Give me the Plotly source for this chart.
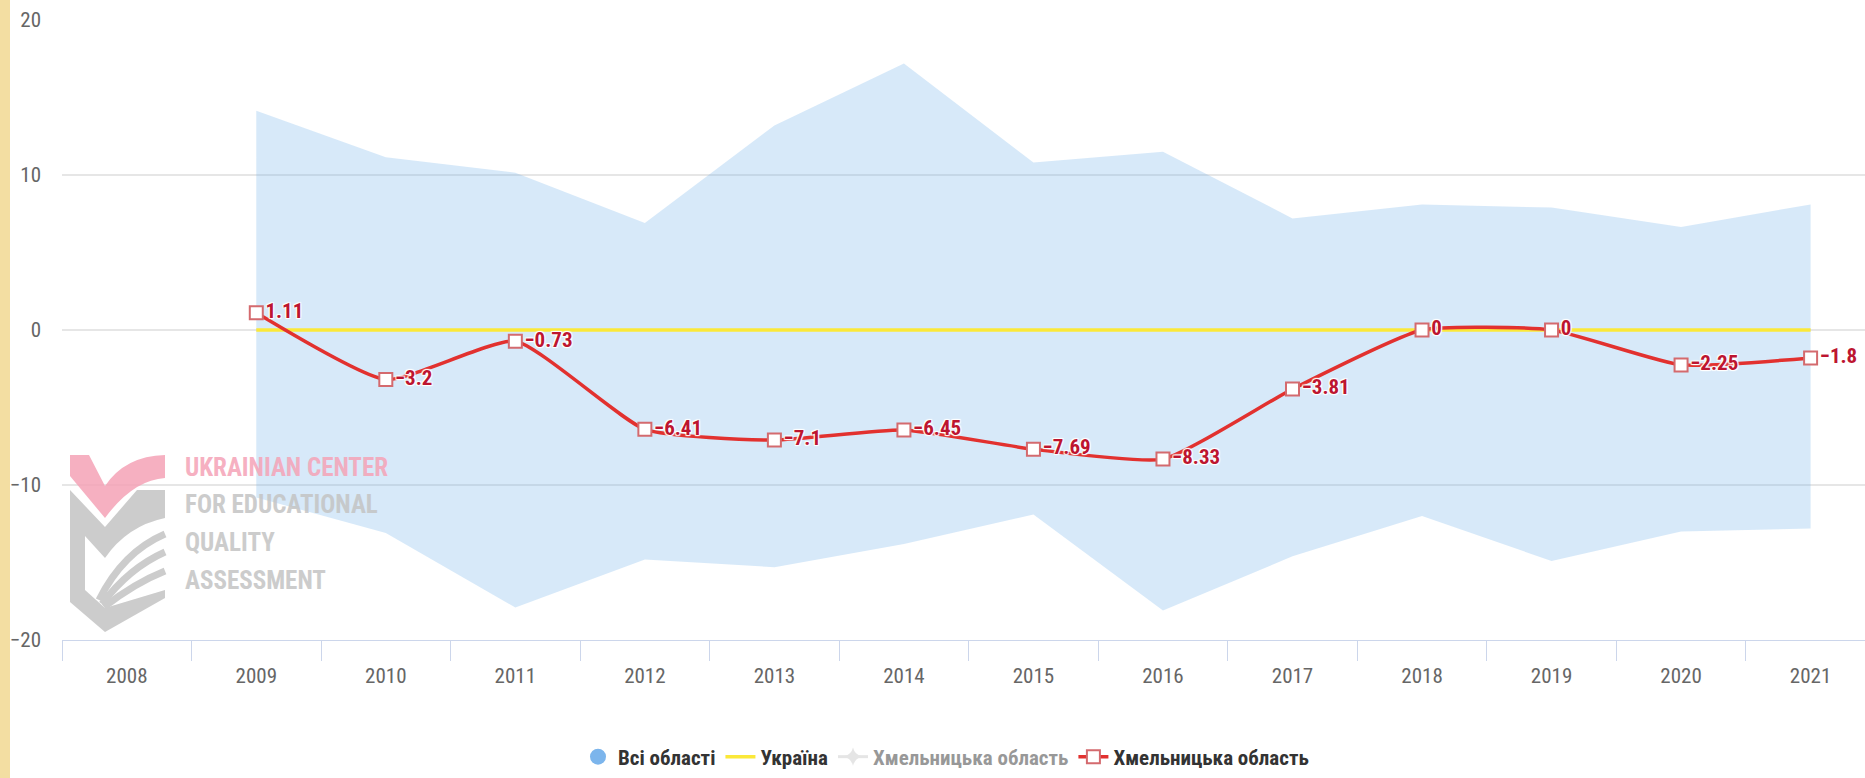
import base64
import plotly.graph_objects as go

#years on the axis and the values of each series
years = ['2008', '2009', '2010', '2011', '2012', '2013', '2014', '2015', '2016', '2017', '2018', '2019', '2020', '2021']
series_years = years[1:]

all_upper = [14.15, 11.15, 10.15, 6.9, 13.2, 17.2, 10.8, 11.5, 7.2, 8.1, 7.9, 6.65, 8.1]
all_lower = [-10.8, -13.1, -17.9, -14.8, -15.3, -13.8, -11.9, -18.1, -14.6, -12.0, -14.9, -13.0, -12.8]
ukraine = [0, 0, 0, 0, 0, 0, 0, 0, 0, 0, 0, 0, 0]
khmelnytskyi = [1.11, -3.2, -0.73, -6.41, -7.1, -6.45, -7.69, -8.33, -3.81, 0, 0, -2.25, -1.8]

font_family = 'Roboto Condensed, DejaVu Sans Condensed, sans-serif'

labels = [f'{v:g}'.replace('-', '\u2212') for v in khmelnytskyi]

fig = go.Figure()

#area range of all regions
fig.add_trace(go.Scatter(
    x = series_years, y = all_upper,
    mode = 'lines', line = dict(width = 0),
    legendgroup = 'all', showlegend = False, hoverinfo = 'skip'
))
fig.add_trace(go.Scatter(
    x = series_years, y = all_lower,
    mode = 'lines', line = dict(width = 0),
    fill = 'tonexty', fillcolor = 'rgba(124,181,236,0.3)',
    legendgroup = 'all', showlegend = False
))
#legend entry for the area (circle symbol like the original)
fig.add_trace(go.Scatter(
    x = [None], y = [None], mode = 'markers',
    marker = dict(symbol = 'circle', size = 18, color = '#7cb5ec'),
    name = 'Всі області', legendgroup = 'all'
))

fig.add_trace(go.Scatter(
    x = series_years, y = ukraine,
    mode = 'lines', line = dict(color = '#fbe839', width = 3.5),
    name = 'Україна'
))

#hidden series, only its legend item is shown
fig.add_trace(go.Scatter(
    x = [None], y = [None],
    mode = 'lines+markers',
    line = dict(color = '#cccccc', width = 3),
    marker = dict(symbol = 'star-diamond', size = 13, color = '#cccccc'),
    name = 'Хмельницька область', visible = 'legendonly'
))

fig.add_trace(go.Scatter(
    x = series_years, y = khmelnytskyi,
    mode = 'lines+markers+text',
    line = dict(color = '#e2312f', width = 3.5, shape = 'spline', smoothing = 0.5),
    marker = dict(symbol = 'square', size = 13, color = 'white',
                  line = dict(color = '#d46a6e', width = 2)),
    text = labels, textposition = 'middle right',
    textfont = dict(family = font_family, size = 21, color = '#bd1530', weight = 'bold',
                    shadow = '1px 1px 1px #fff, -1px -1px 1px #fff, 1px -1px 1px #fff, -1px 1px 1px #fff'),
    name = 'Хмельницька область'
))

#watermark logo (shape only, its text is added as annotations)
logo_svg = '''<svg xmlns="http://www.w3.org/2000/svg" width="140" height="200" viewBox="0 0 140 200">
<path d="M15,15 L34,15 L50,46 Q70,16 110,15 L110,38 Q78,40 50,78 L15,36 Z" fill="#f5a3b7"/>
<path d="M15,50 L50,87 L82,50 L110,50 L110,78 Q72,86 50,118 L30,96 L30,150 L50,168 L110,150 L110,158 L50,192 L15,162 Z" fill="#c4c4c4"/>
<path d="M44,160 Q68,112 110,94" stroke="#c4c4c4" stroke-width="7" fill="none"/>
<path d="M47,164 Q74,128 110,112" stroke="#c4c4c4" stroke-width="7" fill="none"/>
<path d="M49,167 Q80,143 110,131" stroke="#c4c4c4" stroke-width="7" fill="none"/>
</svg>'''
logo_src = 'data:image/svg+xml;base64,' + base64.b64encode(logo_svg.encode('utf-8')).decode('ascii')

plot_w = 1865 - 62
plot_h = 640 - 20

def px_x(p):
    return (p - 62) / plot_w

def px_y(p):
    return (640 - p) / plot_h

watermark = [('UKRAINIAN CENTER', '#f5a3b7', 467), ('FOR EDUCATIONAL', '#c4c4c4', 504),
             ('QUALITY', '#c4c4c4', 542), ('ASSESSMENT', '#c4c4c4', 580)]
annotations = []
for txt, col, ypix in watermark:
    annotations.append(dict(
        text = txt, xref = 'paper', yref = 'paper', x = px_x(183), y = px_y(ypix),
        xanchor = 'left', yanchor = 'middle', showarrow = False, opacity = 0.85,
        font = dict(family = font_family, size = 25, color = col, weight = 'bold')
    ))

layout = dict(
    width = 1865, height = 778,
    margin = dict(l = 62, r = 0, t = 20, b = 138),
    paper_bgcolor = 'white', plot_bgcolor = 'white',
    font = dict(family = font_family, color = '#666666'),
    xaxis = dict(
        type = 'category', categoryorder = 'array', categoryarray = years,
        range = [-0.5, 13.42], tickson = 'boundaries',
        ticks = 'outside', ticklen = 20, tickcolor = '#ccd6eb', tickwidth = 1,
        showline = True, linecolor = '#ccd6eb', linewidth = 1,
        showgrid = False, tickfont = dict(size = 21, color = '#666666'),
        ticklabelstandoff = 17, fixedrange = True
    ),
    yaxis = dict(
        range = [-20, 20], tickvals = [-20, -10, 0, 10, 20],
        showgrid = True, gridcolor = '#e6e6e6', gridwidth = 1.5, zeroline = False,
        showline = False, ticks = '', ticklabelstandoff = 20,
        tickfont = dict(size = 21, color = '#666666'), fixedrange = True
    ),
    legend = dict(
        orientation = 'h', x = px_x(946), y = px_y(757), xanchor = 'center', yanchor = 'middle',
        font = dict(family = font_family, size = 21, color = '#333333', weight = 'bold')
    ),
    shapes = [dict(
        type = 'rect', xref = 'paper', yref = 'paper',
        x0 = px_x(0), x1 = px_x(10), y0 = px_y(778), y1 = px_y(0),
        fillcolor = '#f3dea2', line = dict(width = 0), layer = 'above'
    )],
    images = [dict(
        source = logo_src, xref = 'paper', yref = 'paper',
        x = px_x(55), y = px_y(440), sizex = 140 / plot_w, sizey = 200 / plot_h,
        xanchor = 'left', yanchor = 'top', sizing = 'stretch', opacity = 0.85, layer = 'above'
    )],
    annotations = annotations
)

fig.update_layout(layout)
fig.write_html('out.html', config = {'displayModeBar': False},
               post_script = "document.body.style.margin='0';")
